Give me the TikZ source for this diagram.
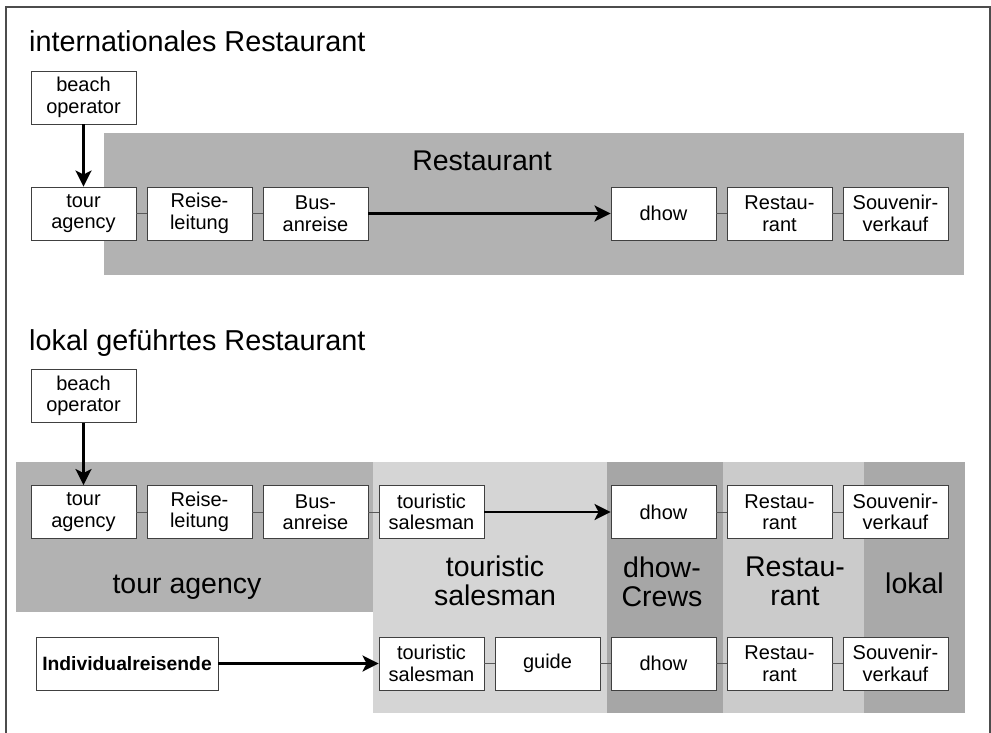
\documentclass[tikz,border=0pt]{standalone}
\usepackage{fontspec}
\setmainfont{Liberation Sans}
\usetikzlibrary{arrows.meta}
\definecolor{regdark}{HTML}{B2B2B2}
\definecolor{reglight}{HTML}{D5D5D5}
\definecolor{regdhow}{HTML}{A6A6A6}
\definecolor{regrest}{HTML}{CBCBCB}
\definecolor{reglokal}{HTML}{A9A9A9}
\begin{document}
\begin{tikzpicture}[x=1pt,y=-1pt,
  box/.style={draw=black!75, fill=white, line width=0.9pt, minimum width=105pt, minimum height=53pt, inner sep=0pt, align=center, font=\fontsize{20}{21.5}\selectfont},
  link/.style={draw=black!65, line width=0.7pt},
  flow/.style={line width=2.8pt, -{Stealth[length=16pt,width=16pt,inset=4pt]}},
  title/.style={anchor=base west, inner sep=0pt, font=\fontsize{28.8}{33}\selectfont},
  region/.style={inner sep=0pt, align=center, font=\fontsize{28.5}{29}\selectfont}]

\useasboundingbox (0,0) rectangle (991,733);

% frame
\draw[black!70, line width=1.5pt] (6,740) -- (6,7) -- (990,7) -- (990,740);

% ---------- top section ----------
\node[title] (t1) at (29,52) {internationales Restaurant};
\fill[regdark] (104,133) rectangle (964,275);
\node[region, anchor=base] (lRest1) at (482,171) {Restaurant};

\node[box] (bo1) at (83.5,97.5) {beach\\operator};
\node[box] (ta1) at (83.5,213.5) {tour\\agency};
\node[box] (rl1) at (199.5,213.5) {Reise-\\leitung};
\node[box] (ba1) at (315.5,213.5) {Bus-\\anreise};
\node[box] (dh1) at (663.5,213.5) {dhow};
\node[box] (rs1) at (779.5,213.5) {Restau-\\rant};
\node[box] (sv1) at (895.5,213.5) {Souvenir-\\verkauf};

\draw[link] (ta1) -- (rl1);
\draw[link] (rl1) -- (ba1);
\draw[link] (dh1) -- (rs1);
\draw[link] (rs1) -- (sv1);
\draw[flow] (bo1) -- (ta1);
\draw[flow] (ba1) -- (dh1);

% ---------- bottom section ----------
\node[title] (t2) at (29,350) {lokal geführtes Restaurant};

\fill[regdark] (16,462) rectangle (373,612);
\fill[reglight] (373,462) rectangle (607,713);
\fill[regdhow] (607,462) rectangle (723,713);
\fill[regrest] (723,462) rectangle (864,713);
\fill[reglokal] (864,462) rectangle (965,713);

\node[region, anchor=base] (lTA) at (187,593) {tour agency};
\node[region] (lTS) at (495,581) {touristic\\salesman};
\node[region] (lDC) at (662,581.5) {dhow-\\Crews};
\node[region] (lRS) at (795,581) {Restau-\\rant};
\node[region, anchor=base] (lLK) at (914.5,593) {lokal};

\node[box] (bo2) at (83.5,396) {beach\\operator};
\node[box] (ta2) at (83.5,512) {tour\\agency};
\node[box] (rl2) at (199.5,512) {Reise-\\leitung};
\node[box] (ba2) at (315.5,512) {Bus-\\anreise};
\node[box] (ts2) at (431.5,512) {touristic\\salesman};
\node[box] (dh2) at (663.5,512) {dhow};
\node[box] (rs2) at (779.5,512) {Restau-\\rant};
\node[box] (sv2) at (895.5,512) {Souvenir-\\verkauf};

\node[box, minimum width=182pt, font=\fontsize{19.3}{21}\selectfont\bfseries] (ir) at (127,663.5) {Individualreisende};
\node[box] (ts3) at (431.5,663.5) {touristic\\salesman};
\node[box] (gd3) at (547.5,663.5) {guide};
\node[box] (dh3) at (663.5,663.5) {dhow};
\node[box] (rs3) at (779.5,663.5) {Restau-\\rant};
\node[box] (sv3) at (895.5,663.5) {Souvenir-\\verkauf};

\draw[link] (ta2) -- (rl2);
\draw[link] (rl2) -- (ba2);
\draw[link] (ba2) -- (ts2);
\draw[link] (dh2) -- (rs2);
\draw[link] (rs2) -- (sv2);
\draw[link] (ts3) -- (gd3);
\draw[link] (gd3) -- (dh3);
\draw[link] (dh3) -- (rs3);
\draw[link] (rs3) -- (sv3);

\draw[flow] (bo2) -- (ta2);
\draw[flow] (ts2) -- (dh2);
\draw[flow] (ir) -- (ts3);
\end{tikzpicture}
\end{document}
